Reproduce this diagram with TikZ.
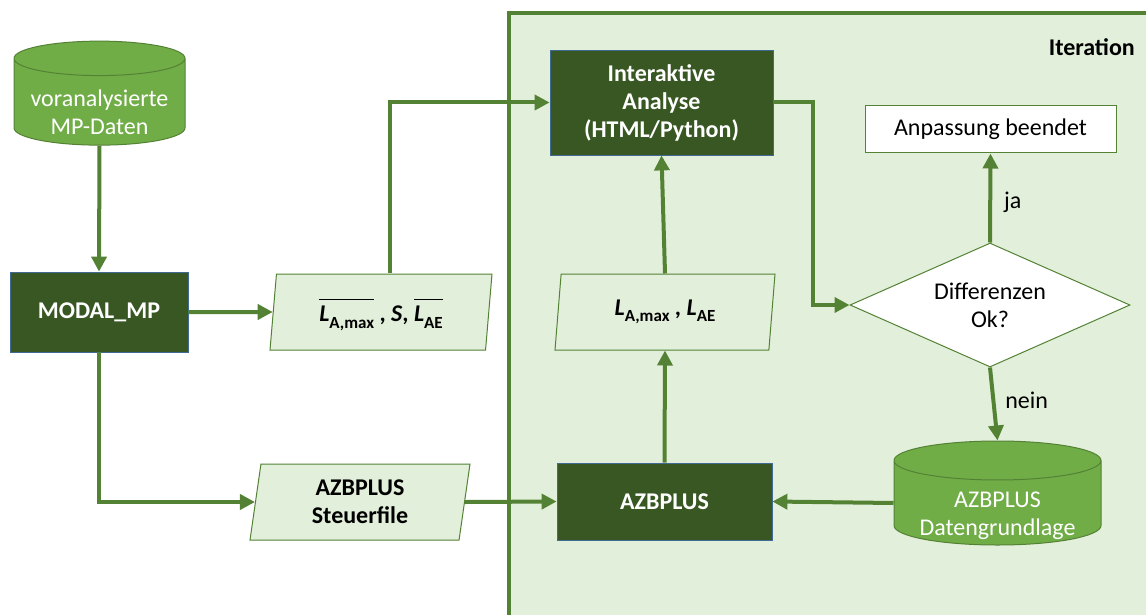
\documentclass[tikz,border=0pt]{standalone}
\usepackage{fontspec}
\setmainfont{Carlito}
\usetikzlibrary{shapes.geometric,arrows.meta}
\definecolor{dkgreen}{HTML}{385723}
\definecolor{mdgreen}{HTML}{70AD47}
\definecolor{lnGreen}{HTML}{548235}
\definecolor{ltgreen}{HTML}{E2EFDA}
\definecolor{bxblue}{HTML}{4472C4}
\tikzset{
  every node/.style={font=\fontsize{24}{28}\selectfont, align=center, inner sep=0pt},
  darkbox/.style={rectangle, fill=dkgreen, draw=bxblue!70!dkgreen, line width=0.8pt, text=white, font=\fontsize{24}{28}\selectfont\bfseries},
  iobox/.style={trapezium, trapezium left angle=76, trapezium right angle=104, fill=ltgreen, draw=lnGreen, line width=1pt, font=\fontsize{24}{28}\selectfont\bfseries, minimum height=76pt, trapezium stretches body},
  dbase/.style={cylinder, shape border rotate=90, aspect=0.25, fill=mdgreen, draw=lnGreen, line width=1pt, text=white},
  conn/.style={draw=lnGreen, line width=4pt, -{Triangle[length=15pt,width=15pt]}},
}
\newcommand{\Lsym}{\textbf{\textit{L}}}
\newcommand{\Lsub}[1]{\Lsym\raisebox{-0.28em}{\fontsize{17}{17}\selectfont\bfseries #1}}
\newcommand{\Lbar}[1]{$\overline{\mbox{\raisebox{0pt}[0.86em][0pt]{\Lsub{#1}}}}$}
\newcommand{\twolines}[2]{\raisebox{-19pt}[0pt][0pt]{\begin{tabular}{@{}c@{}}#1\\#2\end{tabular}}}
\begin{document}
\begin{tikzpicture}[x=1pt,y=-1pt]
\useasboundingbox (0,0) rectangle (1146,615);
\begin{scope}
\clip (0,0) rectangle (1146,615);
\fill[ltgreen] (509,13) rectangle (1170,640);
\draw[lnGreen, line width=3.5pt] (509,640) -- (509,13) -- (1170,13);
\end{scope}
\node[font=\fontsize{24}{28}\selectfont\bfseries, anchor=east] (iter) at (1135,47) {Iteration};

% nodes
\node[dbase, minimum width=171pt, minimum height=104pt] (vor) at (99.5,102) {\twolines{voranalysierte}{MP-Daten}};
\node[darkbox, minimum width=178pt, minimum height=80pt] (modal) at (99,312) {MODAL\_MP};
\node[iobox, minimum width=222pt] (p1) at (381,312) {\Lbar{A,max} , \textit{S}, \Lbar{AE}};
\node[darkbox, minimum width=223pt, minimum height=105pt] (ia) at (661.5,102.5) {Interaktive\\Analyse\\(HTML/Python)};
\node[iobox, minimum width=220pt] (p2) at (665,312) {\Lsub{A,max} , \Lsub{AE}};
\node[darkbox, minimum width=215pt, minimum height=77pt] (azb) at (664.5,501.5) {AZBPLUS};
\node[iobox, minimum width=220pt] (steu) at (360,502) {AZBPLUS\\Steuerfile};
\node[diamond, aspect=2.26, fill=white, draw=lnGreen, line width=1pt, minimum width=280pt, minimum height=124pt] (diff) at (990,305) {Differenzen\\Ok?};
\node[rectangle, fill=white, draw=lnGreen, line width=1pt, minimum width=251pt, minimum height=47pt] (anp) at (990.5,129.5) {Anpassung beendet};
\node[dbase, minimum width=207pt, minimum height=104pt] (dat) at (997.5,503) {\twolines{AZBPLUS}{Datengrundlage}};

% connectors
\draw[conn] (vor.bottom) -- (modal.north);
\draw[conn] (modal.east) -- (p1.west);
\draw[conn] ([xshift=9pt]p1.north) -- ++(0,-38) |- (ia.west);
\draw[conn] (p2.north) -- (ia.south);
\draw[conn] (azb.north) -- (p2.south);
\draw[conn] (modal.south) |- (steu.west);
\draw[conn] (steu.east) -- (azb.west);
\draw[conn] (ia.east) -- ++(40,0) |- (diff.west);
\draw[conn] (diff.north) -- node[right=12pt, pos=0.45] (ja) {ja} (anp.south);
\draw[conn] (diff.south) -- node[right=10pt, pos=0.45] (nein) {nein} (dat.top);
\draw[conn] (dat.west) -- (azb.east);
\end{tikzpicture}
\end{document}
